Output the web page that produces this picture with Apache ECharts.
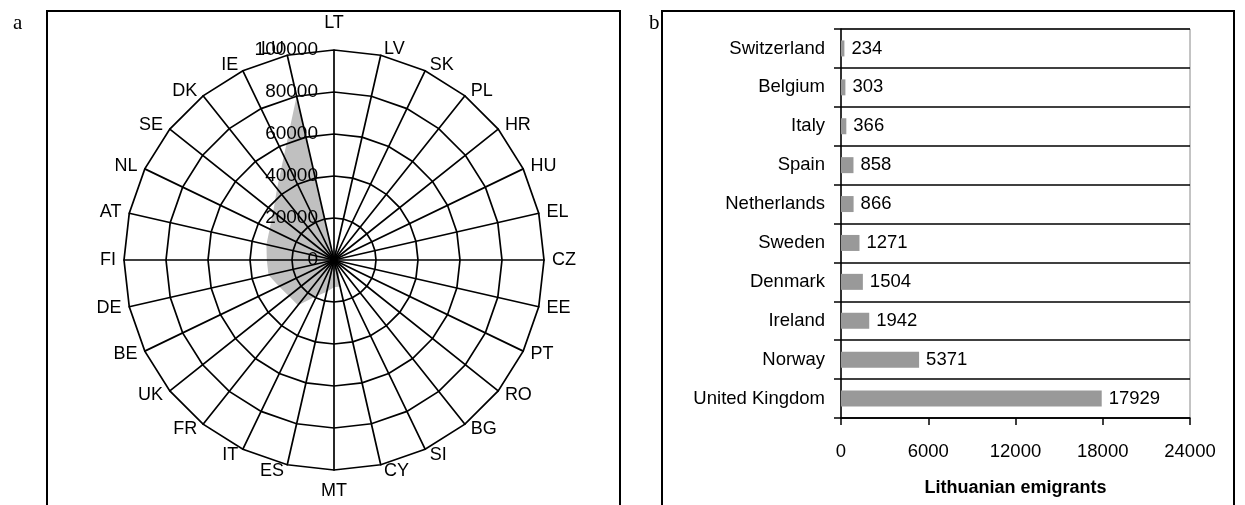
<!DOCTYPE html>
<html>
<head>
<meta charset="utf-8">
<script src="https://cdn.jsdelivr.net/npm/echarts@6/dist/echarts.min.js"></script>
<style>
  html, body { margin: 0; padding: 0; background: #fff; }
  #chart { width: 1245px; height: 505px; }
</style>
</head>
<body>
<div id="chart"></div>
<script>
// panel a: radar (clockwise from the top)
const radarCategories = ['LT', 'LV', 'SK', 'PL', 'HR', 'HU', 'EL', 'CZ', 'EE', 'PT', 'RO', 'BG', 'SI', 'CY',
    'MT', 'ES', 'IT', 'FR', 'UK', 'BE', 'DE', 'FI', 'AT', 'NL', 'SE', 'DK', 'IE', 'LU']
const radarValues = [0, 1500, 1500, 1500, 1500, 1500, 1500, 1500, 1500, 1500, 1500, 1500, 5000, 13000,
    13000, 15500, 19000, 27500, 27500, 29000, 32000, 32000, 33000, 34000, 37000, 43500, 55000, 80000]
const radarMax = 100000

// panel b: bars
const barCountries = ['Switzerland', 'Belgium', 'Italy', 'Spain', 'Netherlands', 'Sweden',
    'Denmark', 'Ireland', 'Norway', 'United Kingdom']
const barValues = [234, 303, 366, 858, 866, 1271, 1504, 1942, 5371, 17929]

const font = '"Liberation Sans", Arial, sans-serif'

// echarts lays radar axes out counter-clockwise, so flip all but the first
const cw = arr => [arr[0]].concat(arr.slice(1).reverse())

const myChart = echarts.init(document.getElementById('chart'))

myChart.setOption({
    animation: false,
    title: [
        { text: 'a', left: 8, top: 8, textStyle: { fontFamily: '"Liberation Serif", serif', fontWeight: 'normal', fontSize: 21, color: '#000' } },
        { text: 'b', left: 644, top: 8, textStyle: { fontFamily: '"Liberation Serif", serif', fontWeight: 'normal', fontSize: 21, color: '#000' } }
    ],
    graphic: [
        { type: 'rect', shape: { x: 47, y: 11, width: 573, height: 600 }, style: { fill: 'none', stroke: '#000', lineWidth: 2 } },
        { type: 'rect', shape: { x: 662, y: 11, width: 572, height: 600 }, style: { fill: 'none', stroke: '#000', lineWidth: 2 } }
    ],
    radar: {
        center: [334, 260],
        radius: 210,
        startAngle: 90,
        shape: 'polygon',
        splitNumber: 5,
        z: 3,
        indicator: cw(radarCategories).map(name => ({ name: name, min: 0, max: radarMax })),
        nameGap: 6,
        axisName: {
            color: '#000',
            fontFamily: font,
            fontSize: 18,
            padding: [6, 2, 12, 2]
        },
        axisLine: { lineStyle: { color: '#000', width: 1.7 } },
        splitLine: { lineStyle: { color: '#000', width: 1.7 } },
        splitArea: { show: false }
    },
    // value labels along the first (LT) axis
    polar: { center: [334, 260], radius: 210 },
    angleAxis: { show: false, startAngle: 90 },
    radiusAxis: {
        min: 0,
        max: radarMax,
        interval: 20000,
        z: 6,
        axisLine: { show: false },
        axisTick: { show: false },
        splitLine: { show: false },
        axisLabel: { color: '#000', fontFamily: font, fontSize: 19, margin: 16, formatter: v => String(v) }
    },
    grid: {
        left: 841,
        top: 29,
        width: 349,
        height: 389,
        show: true,
        borderColor: '#888',
        borderWidth: 1
    },
    xAxis: {
        type: 'value',
        min: 0,
        max: 24000,
        interval: 6000,
        name: 'Lithuanian emigrants',
        nameLocation: 'middle',
        nameGap: 61,
        nameTextStyle: { color: '#000', fontFamily: font, fontSize: 18, fontWeight: 'bold' },
        axisLine: { show: true, lineStyle: { color: '#000', width: 1.5 } },
        axisTick: { show: true, length: 7, lineStyle: { color: '#000', width: 1.5 } },
        splitLine: { show: false },
        axisLabel: { color: '#000', fontFamily: font, fontSize: 18.5, margin: 24, formatter: v => String(v) }
    },
    yAxis: {
        type: 'category',
        inverse: true,
        data: barCountries,
        axisLine: { lineStyle: { color: '#000', width: 1.5 } },
        axisTick: { show: true, length: 7, lineStyle: { color: '#000', width: 1.5 } },
        splitLine: { show: true, lineStyle: { color: '#000', width: 1.5 } },
        axisLabel: { color: '#000', fontFamily: font, fontSize: 18.5, margin: 16 }
    },
    series: [{
        type: 'radar',
        z: 1,
        symbol: 'none',
        lineStyle: { width: 0 },
        areaStyle: { color: '#c0c0c0', opacity: 1 },
        data: [{ value: cw(radarValues) }]
    }, {
        type: 'bar',
        data: barValues,
        barWidth: 16,
        itemStyle: { color: '#999' },
        label: {
            show: true,
            position: 'right',
            distance: 7,
            color: '#000',
            fontFamily: font,
            fontSize: 18.5
        }
    }]
})
</script>
</body>
</html>
